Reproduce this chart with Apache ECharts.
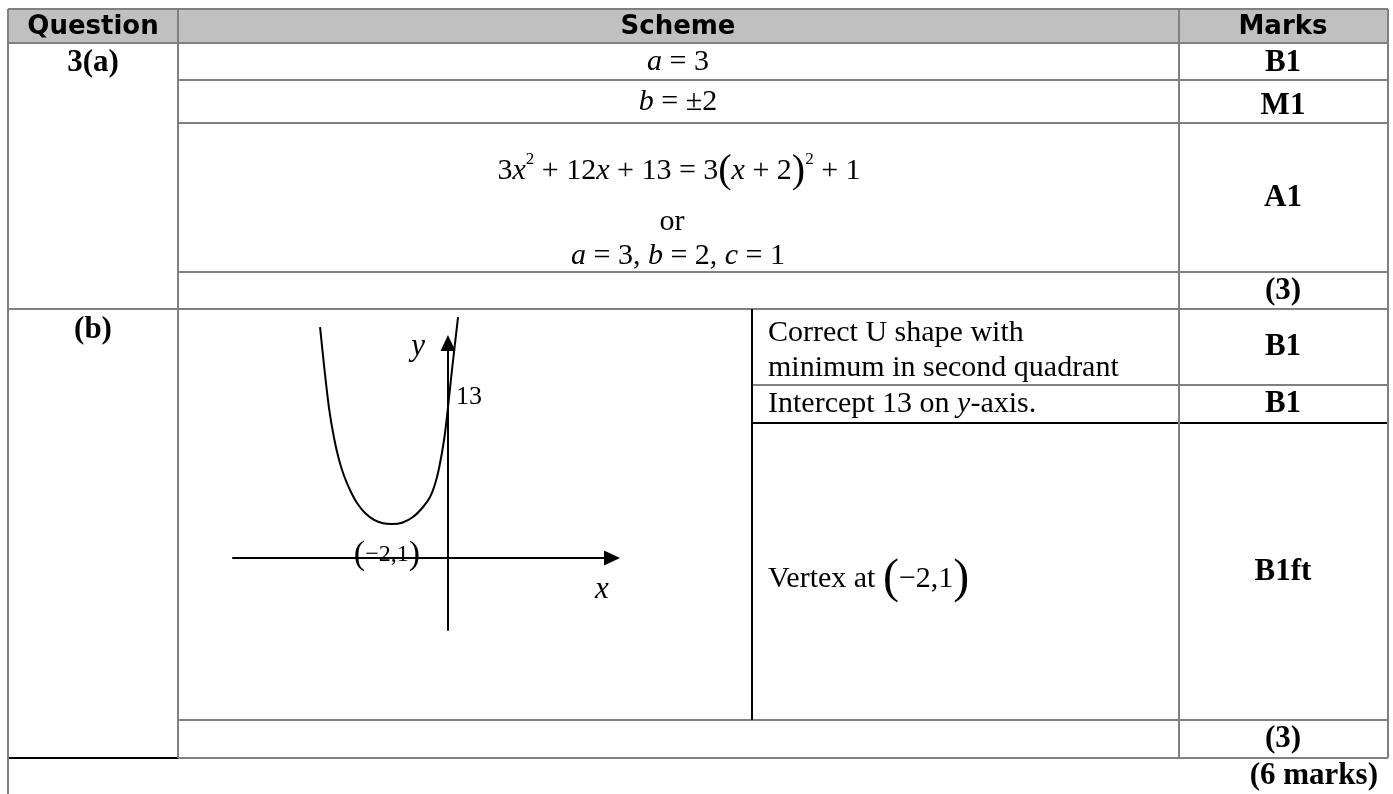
<!DOCTYPE html>
<html>
<head>
<meta charset="utf-8">
<script src="https://cdn.jsdelivr.net/npm/echarts@6/dist/echarts.min.js"></script>
<style>
html,body{margin:0;padding:0;background:#fff}
#chart{width:1393px;height:794px}
</style>
</head>
<body>
<div id="chart"></div>
<script>
// sketch of y = 3(x+2)^2 + 1 (sketch units, not to scale)
var curveX = [-4.57, -4.41, -4.25, -4.07, -3.89, -3.71, -3.50, -3.25, -2.96, -2.64, -2.32, -2.0,
    -1.64, -1.25, -0.89, -0.64, -0.46, -0.31, -0.13, -0.01, 0.13, 0.36];
var curveY = [20.28, 16.51, 13.17, 10.54, 8.60, 7.20, 5.97, 4.83, 3.95, 3.34, 3.05, 2.99,
    3.10, 3.60, 4.48, 5.36, 6.50, 7.99, 10.54, 12.99, 16.24, 21.16];

// labels on the sketch
var sketchLabels = ['y', '13', 'x', '(−2,1)'];
var sketchLabelAt = [[-1.07, 18.5], [0.75, 14.1], [5.5, -2.8], [-2.18, 0.26]];

// table text
var headers = ['Question', 'Scheme', 'Marks'];
var marksA = ['B1', 'M1', 'A1', '(3)'];
var marksB = ['B1', 'B1', 'B1ft', '(3)'];
var notesB = ['Correct U shape with', 'minimum in second quadrant', 'Intercept 13 on {i|y}-axis.', 'Vertex at {pv|(}−2,1{pv|)}'];

var SERIF = 'Liberation Serif';
var GRAY = '#808080';

var chart = echarts.init(document.getElementById('chart'));

var curve = curveX.map(function (x, i) { return [x, curveY[i]]; });

chart.setOption({
    animation: false,
    grid: {left: 233, right: 1393 - 612, top: 343, bottom: 794 - 630},
    xAxis: {
        type: 'value', min: -7.68, max: 5.86,
        axisLine: {onZero: true, lineStyle: {color: '#000', width: 2}, symbol: ['none', 'triangle'], symbolSize: [15, 16]},
        axisTick: {show: false}, axisLabel: {show: false}, splitLine: {show: false}
    },
    yAxis: {
        type: 'value', min: -6.32, max: 18.88,
        axisLine: {onZero: true, lineStyle: {color: '#000', width: 2}, symbol: ['none', 'triangle'], symbolSize: [15, 16]},
        axisTick: {show: false}, axisLabel: {show: false}, splitLine: {show: false}
    },
    series: [{
        type: 'line', data: curve, smooth: 0.3, clip: false, showSymbol: false,
        lineStyle: {color: '#000', width: 2}
    }]
});

function line(x1, y1, x2, y2, color) {
    return {type: 'line', z: 10, shape: {x1: x1, y1: y1, x2: x2, y2: y2},
        style: {stroke: color || GRAY, lineWidth: 2}};
}
function txt(x, y, text, o) {
    o = o || {};
    return {type: 'text', z: 20, x: x, y: y, style: {
        text: text, fill: '#000',
        fontFamily: o.family || SERIF, fontSize: o.size || 30,
        fontWeight: o.bold ? 'bold' : 'normal', fontStyle: o.italic ? 'italic' : 'normal',
        align: o.align || 'center', verticalAlign: 'middle', rich: o.rich
    }};
}
var rich = {
    i: {fontFamily: SERIF, fontSize: 30, fontStyle: 'italic'},
    s: {fontFamily: SERIF, fontSize: 17, verticalAlign: 'top'},
    p: {fontFamily: SERIF, fontSize: 40},
    pv: {fontFamily: SERIF, fontSize: 48}
};

var g = [];
// header band
g.push({type: 'rect', z: 5, shape: {x: 8, y: 9, width: 1380, height: 34}, style: {fill: '#c0c0c0'}});
// horizontal rules
g.push(line(8, 9, 1388, 9), line(8, 43, 1388, 43), line(178, 80, 1388, 80), line(178, 123, 1388, 123),
    line(178, 272, 1388, 272), line(8, 309, 1388, 309), line(752, 385, 1388, 385),
    line(752, 423, 1388, 423, '#000'), line(178, 720, 1388, 720),
    line(178, 758, 1388, 758), line(8, 758, 178, 758, '#000'));
// vertical rules
g.push(line(8, 9, 8, 794), line(178, 9, 178, 758), line(1179, 9, 1179, 758), line(1388, 9, 1388, 758),
    line(752, 309, 752, 720, '#000'));

// header text
var hx = [93, 678, 1283];
headers.forEach(function (h, i) { g.push(txt(hx[i], 27, h, {family: 'DejaVu Sans', size: 26, bold: true})); });

// part (a)
g.push(txt(93, 63, '3(a)', {bold: true, size: 31}));
g.push(txt(678, 62, '{i|a} = 3', {rich: rich}));
g.push(txt(678, 102, '{i|b} = ±2', {rich: rich}));
g.push(txt(679, 171, '3{i|x}{s|2} + 12{i|x} + 13 = 3{p|(}{i|x} + 2{p|)}{s|2} + 1', {rich: rich}));
g.push(txt(672, 222, 'or'));
g.push(txt(678, 256, '{i|a} = 3, {i|b} = 2, {i|c} = 1', {rich: rich}));
var yA = [63, 106, 198, 291];
marksA.forEach(function (m, i) { g.push(txt(1283, yA[i], m, {bold: true, size: 31})); });

// part (b)
g.push(txt(93, 330, '(b)', {bold: true, size: 31}));
var yN = [333, 368, 404, 579];
notesB.forEach(function (n, i) { g.push(txt(768, yN[i], n, {align: 'left', rich: rich})); });
var yB = [347, 404, 572, 739];
marksB.forEach(function (m, i) { g.push(txt(1283, yB[i], m, {bold: true, size: 31})); });
g.push(txt(1378, 776, '(6 marks)', {bold: true, size: 31, align: 'right'}));

// sketch labels placed through the grid's own scale
var lblStyle = [
    {italic: true, size: 31},
    {size: 26},
    {italic: true, size: 31},
    {size: 24, rich: {p: {fontFamily: SERIF, fontSize: 34}}}
];
sketchLabels.forEach(function (s, i) {
    var p = chart.convertToPixel({gridIndex: 0}, sketchLabelAt[i]);
    var text = i === 3 ? '{p|(}−2,1{p|)}' : s;
    g.push(txt(p[0], p[1], text, lblStyle[i]));
});

chart.setOption({graphic: g});
</script>
</body>
</html>
